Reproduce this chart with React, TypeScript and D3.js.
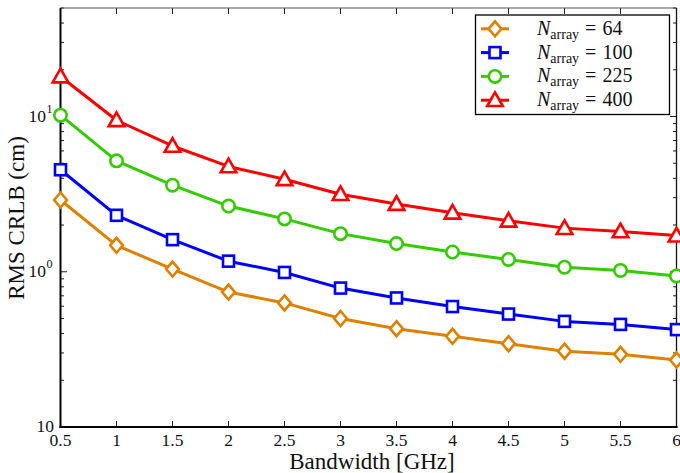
import React from "react";
import * as d3 from "d3";

const bandwidth = [0.5, 1, 1.5, 2, 2.5, 3, 3.5, 4, 4.5, 5, 5.5, 6];
const n64 = [2.9, 1.48, 1.04, 0.74, 0.63, 0.5, 0.43, 0.384, 0.344, 0.308, 0.294, 0.27];
const n100 = [4.54, 2.31, 1.61, 1.17, 0.99, 0.785, 0.678, 0.597, 0.534, 0.479, 0.458, 0.424];
const n225 = [10.2, 5.18, 3.61, 2.65, 2.19, 1.76, 1.52, 1.34, 1.2, 1.07, 1.02, 0.94];
const n400 = [18.1, 9.46, 6.46, 4.77, 3.94, 3.16, 2.73, 2.4, 2.13, 1.91, 1.82, 1.71];
const seriesNames = ["64", "100", "225", "400"];
const xTicks = [0.5, 1, 1.5, 2, 2.5, 3, 3.5, 4, 4.5, 5, 5.5, 6];
const yMajor = [0.1, 1, 10];
const yMajorLabels = [["10", ""], ["10", "0"], ["10", "1"]];

const W = 680, H = 473;
const L = 60.5, R = 676.5, T = 8, B = 427;
const fontStyle = { fontFamily: "'Liberation Serif', 'Times New Roman', serif" };

const colors = ["#E08000", "#0000FF", "#33CC00", "#FF0000"];
const shapes = ["diamond", "square", "circle", "triangle"];

function Marker({ shape, x, y, color }: { shape: string; x: number; y: number; color: string }) {
  const sw = 2.6;
  if (shape === "diamond") {
    const r = 7.5;
    return <path d={`M${x},${y - r}L${x + r * 0.85},${y}L${x},${y + r}L${x - r * 0.85},${y}Z`} fill="white" stroke={color} strokeWidth={sw} />;
  }
  if (shape === "square") {
    const r = 5.5;
    return <rect x={x - r} y={y - r} width={2 * r} height={2 * r} fill="white" stroke={color} strokeWidth={sw} />;
  }
  if (shape === "circle") {
    return <circle cx={x} cy={y} r={6.2} fill="white" stroke={color} strokeWidth={sw} />;
  }
  const r = 7.8;
  return <path d={`M${x},${y - r}L${x + r},${y + r * 0.75}L${x - r},${y + r * 0.75}Z`} fill="white" stroke={color} strokeWidth={sw} />;
}

export default function App() {
  const x = d3.scaleLinear().domain([0.5, 6]).range([L, R]);
  const y = d3.scaleLog().domain([0.1, 50]).range([B, T]);
  const data = [n64, n100, n225, n400];
  const line = d3.line<number>().x((_, i) => x(bandwidth[i])).y((v) => y(v));

  const minor: number[] = [];
  for (const dec of [0.1, 1, 10]) {
    for (let k = 2; k <= 9; k++) {
      const v = dec * k;
      if (v <= 50) minor.push(v);
    }
  }

  return (
    <svg width={W} height={H} style={{ position: "absolute", left: 0, top: 0 }}>
      <rect x={0} y={0} width={W} height={H} fill="white" />
      {xTicks.map((t) => (
        <g key={"xt" + t}>
          <line x1={x(t)} x2={x(t)} y1={B} y2={B - 6} stroke="#222" strokeWidth={1} />
          <line x1={x(t)} x2={x(t)} y1={T} y2={T + 6} stroke="#222" strokeWidth={1} />
          <text x={x(t)} y={B + 19} textAnchor="middle" fontSize={17.5} fill="#111" style={fontStyle}>{t}</text>
        </g>
      ))}
      {minor.map((v) => (
        <g key={"ym" + v}>
          <line x1={L} x2={L + 3.5} y1={y(v)} y2={y(v)} stroke="#222" strokeWidth={1} />
          <line x1={R} x2={R - 3.5} y1={y(v)} y2={y(v)} stroke="#222" strokeWidth={1} />
        </g>
      ))}
      {yMajor.map((v, i) => (
        <g key={"yM" + v}>
          <line x1={L} x2={L + 6.5} y1={y(v)} y2={y(v)} stroke="#222" strokeWidth={1} />
          <line x1={R} x2={R - 6.5} y1={y(v)} y2={y(v)} stroke="#222" strokeWidth={1} />
          <text x={yMajorLabels[i][1] ? 46 : 54} y={y(v) + 5} textAnchor="end" fontSize={17.5} fill="#111" style={fontStyle}>
            {yMajorLabels[i][0]}
          </text>
          {yMajorLabels[i][1] && (
            <text x={46.5} y={y(v) - 4} fontSize={12} fill="#111" style={fontStyle}>{yMajorLabels[i][1]}</text>
          )}
        </g>
      ))}
      <line x1={L} x2={R} y1={T} y2={T} stroke="#555" strokeWidth={1} />
      <line x1={R} x2={R} y1={T} y2={B} stroke="#111" strokeWidth={1.3} />
      <line x1={L} x2={L} y1={T} y2={B + 1} stroke="#000" strokeWidth={2} />
      <line x1={L - 1} x2={R + 1} y1={B} y2={B} stroke="#000" strokeWidth={2} />
      {data.map((s, si) => (
        <g key={"s" + si}>
          <path d={line(s) || ""} fill="none" stroke={colors[si]} strokeWidth={3} strokeLinejoin="round" />
          {s.map((v, i) => (
            <Marker key={i} shape={shapes[si]} x={x(bandwidth[i])} y={y(v)} color={colors[si]} />
          ))}
        </g>
      ))}
      <rect x={475.5} y={15} width={194} height={99.5} fill="white" stroke="#000" strokeWidth={1.3} />
      {seriesNames.map((n, i) => {
        const ly = 28.8 + i * 23.8;
        return (
          <g key={"lg" + n}>
            <line x1={481} x2={509} y1={ly} y2={ly} stroke={colors[i]} strokeWidth={3} />
            <Marker shape={shapes[i]} x={495} y={ly} color={colors[i]} />
            <text x={537} y={ly + 6} fontSize={20} fill="#111" style={fontStyle}>
              <tspan fontStyle="italic">N</tspan>
              <tspan fontSize={14} dy={4}>array</tspan>
              <tspan dy={-4} dx={6}>=</tspan>
              <tspan dx={6}>{n}</tspan>
            </text>
          </g>
        );
      })}
      <text x={372} y={469} textAnchor="middle" fontSize={23} fill="#111" style={fontStyle}>Bandwidth [GHz]</text>
      <text transform={`translate(24,218) rotate(-90)`} textAnchor="middle" fontSize={23} fill="#111" style={fontStyle}>RMS CRLB (cm)</text>
    </svg>
  );
}
